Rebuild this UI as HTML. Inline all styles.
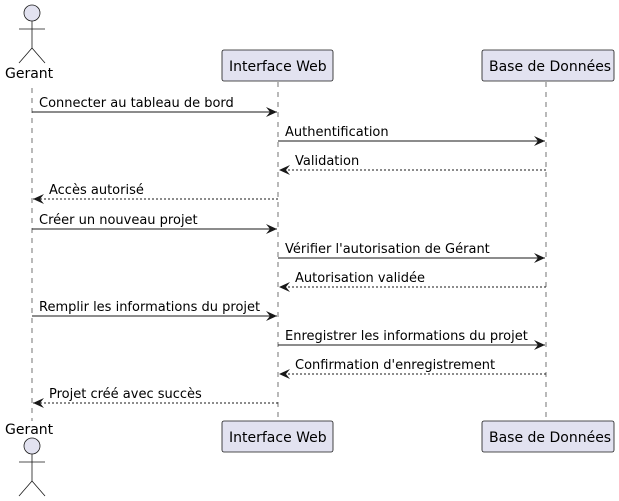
<!DOCTYPE html>
<html><head><meta charset="utf-8"><style>body{margin:0;background:#fff}svg{display:block}text{font-family:"DejaVu Sans",sans-serif;font-size:13px;fill:#000}</style></head><body>
<svg width="619" height="501" viewBox="0 0 619 501" xmlns="http://www.w3.org/2000/svg">
<defs>
<marker id="a" viewBox="0 0 12 10" refX="11" refY="5" markerWidth="12" markerHeight="10" markerUnits="userSpaceOnUse" orient="auto"><path d="M0,0 L11,5 L0,10 L4,5 Z" fill="#181818"/></marker>
</defs>
<g stroke="#181818" stroke-width="0.6" stroke-dasharray="5,5">
<line x1="32" y1="88" x2="32" y2="421"/>
<line x1="278" y1="82" x2="278" y2="421"/>
<line x1="546" y1="82" x2="546" y2="421"/>
</g>
<g fill="#E2E2F0" stroke="#181818" stroke-width="0.8">
<circle cx="32" cy="13" r="8"/>
<line x1="32" y1="21" x2="32" y2="48"/><line x1="19" y1="29" x2="45" y2="29"/>
<line x1="32" y1="48" x2="19" y2="63"/><line x1="32" y1="48" x2="45" y2="63"/>
<circle cx="32" cy="446" r="8"/>
<line x1="32" y1="454" x2="32" y2="481"/><line x1="19" y1="462" x2="45" y2="462"/>
<line x1="32" y1="481" x2="19" y2="496"/><line x1="32" y1="481" x2="45" y2="496"/>
<rect x="222" y="50" width="111" height="31" rx="2"/>
<rect x="482" y="50" width="132" height="31" rx="2"/>
<rect x="222" y="421" width="111" height="31" rx="2"/>
<rect x="482" y="421" width="132" height="31" rx="2"/>
</g>
<text x="5" y="78" style="font-size:14px">Gerant</text>
<text x="5" y="434" style="font-size:14px">Gerant</text>
<text x="229" y="71" style="font-size:14px">Interface Web</text>
<text x="229" y="442" style="font-size:14px">Interface Web</text>
<text x="489" y="71" style="font-size:14px">Base de Données</text>
<text x="489" y="442" style="font-size:14px">Base de Données</text>
<g stroke="#181818" stroke-width="1" marker-end="url(#a)">
<line x1="32" y1="112" x2="277" y2="112"/>
<line x1="278" y1="141" x2="545" y2="141"/>
<line x1="546" y1="170" x2="279" y2="170" stroke-dasharray="2,2"/>
<line x1="278" y1="199" x2="33" y2="199" stroke-dasharray="2,2"/>
<line x1="32" y1="229" x2="277" y2="229"/>
<line x1="278" y1="258" x2="545" y2="258"/>
<line x1="546" y1="287" x2="279" y2="287" stroke-dasharray="2,2"/>
<line x1="32" y1="316" x2="277" y2="316"/>
<line x1="278" y1="345" x2="545" y2="345"/>
<line x1="546" y1="374" x2="279" y2="374" stroke-dasharray="2,2"/>
<line x1="278" y1="403" x2="33" y2="403" stroke-dasharray="2,2"/>
</g>
<text x="39" y="107">Connecter au tableau de bord</text>
<text x="285" y="136">Authentification</text>
<text x="295" y="165">Validation</text>
<text x="49" y="194">Accès autorisé</text>
<text x="39" y="224">Créer un nouveau projet</text>
<text x="285" y="253">Vérifier l'autorisation de Gérant</text>
<text x="295" y="282">Autorisation validée</text>
<text x="39" y="311">Remplir les informations du projet</text>
<text x="285" y="340">Enregistrer les informations du projet</text>
<text x="295" y="369">Confirmation d'enregistrement</text>
<text x="49" y="398">Projet créé avec succès</text>
</svg>
</body></html>
